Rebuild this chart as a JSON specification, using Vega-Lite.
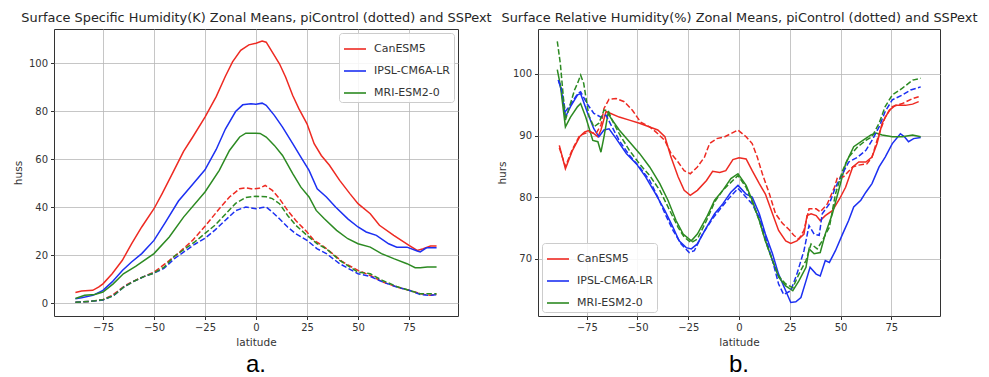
{
"$schema": "https://vega.github.io/schema/vega-lite/v6.json",
"background": "white",
"padding": {"left": 12, "top": 10, "right": 5, "bottom": 0},
"bounds": "flush",
"spacing": 80,
"config": {
  "font": "DejaVu Sans",
  "view": {"stroke": "#333333", "strokeWidth": 1},
  "axis": {"labelFont": "DejaVu Sans", "labelFontSize": 10, "labelColor": "#333333", "titleFont": "DejaVu Sans", "titleFontSize": 10.5, "titleFontWeight": "normal", "titleColor": "#333333", "gridColor": "#b8b8b8", "gridWidth": 0.8, "domain": false, "tickColor": "#333333", "tickSize": 3.5, "labelPadding": 3, "titlePadding": 5},
  "title": {"font": "DejaVu Sans", "fontSize": 12, "fontWeight": "normal", "color": "#262626"},
  "legend": {"title": null, "fillColor": "rgba(255,255,255,0.85)", "strokeColor": "#cccccc", "cornerRadius": 3, "padding": 4, "offset": 4, "symbolType": "stroke", "symbolSize": 484, "symbolStrokeWidth": 1.6, "labelFont": "DejaVu Sans", "labelFontSize": 11, "labelColor": "#333333", "labelOffset": 7, "rowPadding": 5}
},
"datasets": {
"huss": [
{"model":"CanESM5","run":"SSPext","lat":-88.5,"v":4.4},{"model":"CanESM5","run":"SSPext","lat":-85.5,"v":5},{"model":"CanESM5","run":"SSPext","lat":-80,"v":5.3},{"model":"CanESM5","run":"SSPext","lat":-77,"v":6.7},{"model":"CanESM5","run":"SSPext","lat":-75,"v":8},{"model":"CanESM5","run":"SSPext","lat":-70.5,"v":12.2},{"model":"CanESM5","run":"SSPext","lat":-65.5,"v":17.8},{"model":"CanESM5","run":"SSPext","lat":-61,"v":24.7},{"model":"CanESM5","run":"SSPext","lat":-56,"v":31.7},{"model":"CanESM5","run":"SSPext","lat":-50,"v":39.3},{"model":"CanESM5","run":"SSPext","lat":-46,"v":45.6},{"model":"CanESM5","run":"SSPext","lat":-41,"v":53.9},{"model":"CanESM5","run":"SSPext","lat":-35.5,"v":63.2},{"model":"CanESM5","run":"SSPext","lat":-31,"v":69.2},{"model":"CanESM5","run":"SSPext","lat":-25,"v":77.5},{"model":"CanESM5","run":"SSPext","lat":-19.5,"v":86},{"model":"CanESM5","run":"SSPext","lat":-15,"v":94.5},{"model":"CanESM5","run":"SSPext","lat":-11.5,"v":100.5},{"model":"CanESM5","run":"SSPext","lat":-7.5,"v":105.3},{"model":"CanESM5","run":"SSPext","lat":-3.5,"v":107.6},{"model":"CanESM5","run":"SSPext","lat":0,"v":108.3},{"model":"CanESM5","run":"SSPext","lat":3,"v":109.2},{"model":"CanESM5","run":"SSPext","lat":5,"v":108.7},{"model":"CanESM5","run":"SSPext","lat":8,"v":104.6},{"model":"CanESM5","run":"SSPext","lat":11.5,"v":99.7},{"model":"CanESM5","run":"SSPext","lat":14.5,"v":94.2},{"model":"CanESM5","run":"SSPext","lat":18,"v":86.5},{"model":"CanESM5","run":"SSPext","lat":21,"v":81},{"model":"CanESM5","run":"SSPext","lat":25,"v":74.7},{"model":"CanESM5","run":"SSPext","lat":28.5,"v":66.4},{"model":"CanESM5","run":"SSPext","lat":32,"v":61.5},{"model":"CanESM5","run":"SSPext","lat":36,"v":57.4},{"model":"CanESM5","run":"SSPext","lat":41,"v":51.1},{"model":"CanESM5","run":"SSPext","lat":46,"v":45.6},{"model":"CanESM5","run":"SSPext","lat":50,"v":41.4},{"model":"CanESM5","run":"SSPext","lat":56,"v":37.2},{"model":"CanESM5","run":"SSPext","lat":60.5,"v":32.4},{"model":"CanESM5","run":"SSPext","lat":67.5,"v":28.2},{"model":"CanESM5","run":"SSPext","lat":75,"v":24},{"model":"CanESM5","run":"SSPext","lat":79,"v":21.9},{"model":"CanESM5","run":"SSPext","lat":82,"v":22.6},{"model":"CanESM5","run":"SSPext","lat":85.5,"v":23.8},{"model":"CanESM5","run":"SSPext","lat":88.5,"v":23.8},
{"model":"IPSL-CM6A-LR","run":"SSPext","lat":-88.5,"v":1.8},{"model":"IPSL-CM6A-LR","run":"SSPext","lat":-85.5,"v":2.2},{"model":"IPSL-CM6A-LR","run":"SSPext","lat":-80,"v":3.2},{"model":"IPSL-CM6A-LR","run":"SSPext","lat":-75,"v":5.3},{"model":"IPSL-CM6A-LR","run":"SSPext","lat":-70.5,"v":8.8},{"model":"IPSL-CM6A-LR","run":"SSPext","lat":-65.5,"v":13.6},{"model":"IPSL-CM6A-LR","run":"SSPext","lat":-61,"v":17.1},{"model":"IPSL-CM6A-LR","run":"SSPext","lat":-56,"v":20.6},{"model":"IPSL-CM6A-LR","run":"SSPext","lat":-50,"v":26.1},{"model":"IPSL-CM6A-LR","run":"SSPext","lat":-44.5,"v":33.5},{"model":"IPSL-CM6A-LR","run":"SSPext","lat":-38,"v":42.5},{"model":"IPSL-CM6A-LR","run":"SSPext","lat":-31,"v":49.5},{"model":"IPSL-CM6A-LR","run":"SSPext","lat":-25,"v":55.5},{"model":"IPSL-CM6A-LR","run":"SSPext","lat":-19.5,"v":64},{"model":"IPSL-CM6A-LR","run":"SSPext","lat":-15,"v":72.5},{"model":"IPSL-CM6A-LR","run":"SSPext","lat":-10,"v":79.8},{"model":"IPSL-CM6A-LR","run":"SSPext","lat":-6.5,"v":82.6},{"model":"IPSL-CM6A-LR","run":"SSPext","lat":-2.5,"v":83},{"model":"IPSL-CM6A-LR","run":"SSPext","lat":0,"v":82.8},{"model":"IPSL-CM6A-LR","run":"SSPext","lat":3,"v":83.3},{"model":"IPSL-CM6A-LR","run":"SSPext","lat":5,"v":82.4},{"model":"IPSL-CM6A-LR","run":"SSPext","lat":9,"v":78.2},{"model":"IPSL-CM6A-LR","run":"SSPext","lat":13,"v":73.3},{"model":"IPSL-CM6A-LR","run":"SSPext","lat":18,"v":66.4},{"model":"IPSL-CM6A-LR","run":"SSPext","lat":22,"v":60.8},{"model":"IPSL-CM6A-LR","run":"SSPext","lat":26,"v":55.3},{"model":"IPSL-CM6A-LR","run":"SSPext","lat":30,"v":47.6},{"model":"IPSL-CM6A-LR","run":"SSPext","lat":34.5,"v":44.2},{"model":"IPSL-CM6A-LR","run":"SSPext","lat":39,"v":40},{"model":"IPSL-CM6A-LR","run":"SSPext","lat":45,"v":35.1},{"model":"IPSL-CM6A-LR","run":"SSPext","lat":50,"v":31.7},{"model":"IPSL-CM6A-LR","run":"SSPext","lat":54,"v":29.6},{"model":"IPSL-CM6A-LR","run":"SSPext","lat":59,"v":28.2},{"model":"IPSL-CM6A-LR","run":"SSPext","lat":65,"v":24.7},{"model":"IPSL-CM6A-LR","run":"SSPext","lat":69,"v":23.3},{"model":"IPSL-CM6A-LR","run":"SSPext","lat":74,"v":23.3},{"model":"IPSL-CM6A-LR","run":"SSPext","lat":79,"v":21.7},{"model":"IPSL-CM6A-LR","run":"SSPext","lat":80.5,"v":21.3},{"model":"IPSL-CM6A-LR","run":"SSPext","lat":83.5,"v":23},{"model":"IPSL-CM6A-LR","run":"SSPext","lat":88.5,"v":23},
{"model":"MRI-ESM2-0","run":"SSPext","lat":-88.5,"v":1.9},{"model":"MRI-ESM2-0","run":"SSPext","lat":-84,"v":3.2},{"model":"MRI-ESM2-0","run":"SSPext","lat":-79,"v":3.6},{"model":"MRI-ESM2-0","run":"SSPext","lat":-75,"v":4.6},{"model":"MRI-ESM2-0","run":"SSPext","lat":-70,"v":8},{"model":"MRI-ESM2-0","run":"SSPext","lat":-65,"v":12.2},{"model":"MRI-ESM2-0","run":"SSPext","lat":-59,"v":15.3},{"model":"MRI-ESM2-0","run":"SSPext","lat":-50,"v":20.6},{"model":"MRI-ESM2-0","run":"SSPext","lat":-42.5,"v":27.5},{"model":"MRI-ESM2-0","run":"SSPext","lat":-35.5,"v":35.8},{"model":"MRI-ESM2-0","run":"SSPext","lat":-25,"v":46.3},{"model":"MRI-ESM2-0","run":"SSPext","lat":-18,"v":55.3},{"model":"MRI-ESM2-0","run":"SSPext","lat":-13,"v":63.6},{"model":"MRI-ESM2-0","run":"SSPext","lat":-8,"v":69.2},{"model":"MRI-ESM2-0","run":"SSPext","lat":-5,"v":70.8},{"model":"MRI-ESM2-0","run":"SSPext","lat":0,"v":70.8},{"model":"MRI-ESM2-0","run":"SSPext","lat":2,"v":70.7},{"model":"MRI-ESM2-0","run":"SSPext","lat":5,"v":69.2},{"model":"MRI-ESM2-0","run":"SSPext","lat":9,"v":65.7},{"model":"MRI-ESM2-0","run":"SSPext","lat":13,"v":61.5},{"model":"MRI-ESM2-0","run":"SSPext","lat":18,"v":53.9},{"model":"MRI-ESM2-0","run":"SSPext","lat":22,"v":48.3},{"model":"MRI-ESM2-0","run":"SSPext","lat":26,"v":44.2},{"model":"MRI-ESM2-0","run":"SSPext","lat":29.5,"v":38.6},{"model":"MRI-ESM2-0","run":"SSPext","lat":33.5,"v":35.1},{"model":"MRI-ESM2-0","run":"SSPext","lat":39.5,"v":30.3},{"model":"MRI-ESM2-0","run":"SSPext","lat":45,"v":26.8},{"model":"MRI-ESM2-0","run":"SSPext","lat":50,"v":24.7},{"model":"MRI-ESM2-0","run":"SSPext","lat":56,"v":23.3},{"model":"MRI-ESM2-0","run":"SSPext","lat":61.5,"v":20.6},{"model":"MRI-ESM2-0","run":"SSPext","lat":67.5,"v":18.5},{"model":"MRI-ESM2-0","run":"SSPext","lat":74,"v":16.4},{"model":"MRI-ESM2-0","run":"SSPext","lat":78,"v":14.7},{"model":"MRI-ESM2-0","run":"SSPext","lat":80.5,"v":14.7},{"model":"MRI-ESM2-0","run":"SSPext","lat":84,"v":15},{"model":"MRI-ESM2-0","run":"SSPext","lat":88.5,"v":15},
{"model":"CanESM5","run":"piControl","lat":-88.5,"v":0.3},{"model":"CanESM5","run":"piControl","lat":-80,"v":0.8},{"model":"CanESM5","run":"piControl","lat":-75,"v":1.4},{"model":"CanESM5","run":"piControl","lat":-70.5,"v":3.2},{"model":"CanESM5","run":"piControl","lat":-64,"v":7.4},{"model":"CanESM5","run":"piControl","lat":-57.5,"v":10.1},{"model":"CanESM5","run":"piControl","lat":-50,"v":12.9},{"model":"CanESM5","run":"piControl","lat":-44.5,"v":16.4},{"model":"CanESM5","run":"piControl","lat":-38,"v":20.8},{"model":"CanESM5","run":"piControl","lat":-31,"v":26.2},{"model":"CanESM5","run":"piControl","lat":-25,"v":32},{"model":"CanESM5","run":"piControl","lat":-18,"v":39.3},{"model":"CanESM5","run":"piControl","lat":-13,"v":44.2},{"model":"CanESM5","run":"piControl","lat":-8,"v":47.6},{"model":"CanESM5","run":"piControl","lat":-5,"v":48},{"model":"CanESM5","run":"piControl","lat":-1.5,"v":47.5},{"model":"CanESM5","run":"piControl","lat":1.5,"v":47.8},{"model":"CanESM5","run":"piControl","lat":4.5,"v":49},{"model":"CanESM5","run":"piControl","lat":8,"v":47},{"model":"CanESM5","run":"piControl","lat":11.5,"v":43.5},{"model":"CanESM5","run":"piControl","lat":15.5,"v":38.6},{"model":"CanESM5","run":"piControl","lat":19.5,"v":34.4},{"model":"CanESM5","run":"piControl","lat":25,"v":29.6},{"model":"CanESM5","run":"piControl","lat":28.5,"v":26.1},{"model":"CanESM5","run":"piControl","lat":32.5,"v":24},{"model":"CanESM5","run":"piControl","lat":37.5,"v":20.6},{"model":"CanESM5","run":"piControl","lat":42.5,"v":17.1},{"model":"CanESM5","run":"piControl","lat":50,"v":13.6},{"model":"CanESM5","run":"piControl","lat":56,"v":11.5},{"model":"CanESM5","run":"piControl","lat":62,"v":8.8},{"model":"CanESM5","run":"piControl","lat":69,"v":6.7},{"model":"CanESM5","run":"piControl","lat":75,"v":5.3},{"model":"CanESM5","run":"piControl","lat":80.5,"v":3.9},{"model":"CanESM5","run":"piControl","lat":85.5,"v":3.2},{"model":"CanESM5","run":"piControl","lat":88.5,"v":3.6},
{"model":"IPSL-CM6A-LR","run":"piControl","lat":-88.5,"v":0.3},{"model":"IPSL-CM6A-LR","run":"piControl","lat":-80,"v":0.8},{"model":"IPSL-CM6A-LR","run":"piControl","lat":-75,"v":1.3},{"model":"IPSL-CM6A-LR","run":"piControl","lat":-70,"v":3},{"model":"IPSL-CM6A-LR","run":"piControl","lat":-65,"v":6.5},{"model":"IPSL-CM6A-LR","run":"piControl","lat":-60,"v":9},{"model":"IPSL-CM6A-LR","run":"piControl","lat":-55,"v":11},{"model":"IPSL-CM6A-LR","run":"piControl","lat":-50,"v":12.5},{"model":"IPSL-CM6A-LR","run":"piControl","lat":-45,"v":14.5},{"model":"IPSL-CM6A-LR","run":"piControl","lat":-40,"v":18.5},{"model":"IPSL-CM6A-LR","run":"piControl","lat":-35,"v":21.5},{"model":"IPSL-CM6A-LR","run":"piControl","lat":-30,"v":24.5},{"model":"IPSL-CM6A-LR","run":"piControl","lat":-25,"v":27},{"model":"IPSL-CM6A-LR","run":"piControl","lat":-20,"v":30.5},{"model":"IPSL-CM6A-LR","run":"piControl","lat":-15,"v":34.5},{"model":"IPSL-CM6A-LR","run":"piControl","lat":-10,"v":38.5},{"model":"IPSL-CM6A-LR","run":"piControl","lat":-5,"v":40},{"model":"IPSL-CM6A-LR","run":"piControl","lat":0,"v":39.3},{"model":"IPSL-CM6A-LR","run":"piControl","lat":3,"v":39.8},{"model":"IPSL-CM6A-LR","run":"piControl","lat":5,"v":40},{"model":"IPSL-CM6A-LR","run":"piControl","lat":8,"v":37.9},{"model":"IPSL-CM6A-LR","run":"piControl","lat":11.5,"v":35.1},{"model":"IPSL-CM6A-LR","run":"piControl","lat":15.5,"v":31.7},{"model":"IPSL-CM6A-LR","run":"piControl","lat":19.5,"v":28.9},{"model":"IPSL-CM6A-LR","run":"piControl","lat":25,"v":26.1},{"model":"IPSL-CM6A-LR","run":"piControl","lat":30,"v":22.6},{"model":"IPSL-CM6A-LR","run":"piControl","lat":34.5,"v":20.6},{"model":"IPSL-CM6A-LR","run":"piControl","lat":41,"v":16.4},{"model":"IPSL-CM6A-LR","run":"piControl","lat":50,"v":12.2},{"model":"IPSL-CM6A-LR","run":"piControl","lat":56,"v":11.1},{"model":"IPSL-CM6A-LR","run":"piControl","lat":62,"v":8.8},{"model":"IPSL-CM6A-LR","run":"piControl","lat":69,"v":6.7},{"model":"IPSL-CM6A-LR","run":"piControl","lat":75,"v":5.3},{"model":"IPSL-CM6A-LR","run":"piControl","lat":80.5,"v":3.6},{"model":"IPSL-CM6A-LR","run":"piControl","lat":85.5,"v":3.2},{"model":"IPSL-CM6A-LR","run":"piControl","lat":88.5,"v":3.5},
{"model":"MRI-ESM2-0","run":"piControl","lat":-88.5,"v":0.3},{"model":"MRI-ESM2-0","run":"piControl","lat":-80,"v":0.8},{"model":"MRI-ESM2-0","run":"piControl","lat":-75,"v":1.4},{"model":"MRI-ESM2-0","run":"piControl","lat":-70,"v":3},{"model":"MRI-ESM2-0","run":"piControl","lat":-65,"v":6.5},{"model":"MRI-ESM2-0","run":"piControl","lat":-60,"v":9},{"model":"MRI-ESM2-0","run":"piControl","lat":-55,"v":11},{"model":"MRI-ESM2-0","run":"piControl","lat":-50,"v":12.5},{"model":"MRI-ESM2-0","run":"piControl","lat":-45,"v":15},{"model":"MRI-ESM2-0","run":"piControl","lat":-40,"v":19.5},{"model":"MRI-ESM2-0","run":"piControl","lat":-35,"v":22.5},{"model":"MRI-ESM2-0","run":"piControl","lat":-30,"v":25.5},{"model":"MRI-ESM2-0","run":"piControl","lat":-25,"v":29},{"model":"MRI-ESM2-0","run":"piControl","lat":-20,"v":32.5},{"model":"MRI-ESM2-0","run":"piControl","lat":-15,"v":37},{"model":"MRI-ESM2-0","run":"piControl","lat":-10,"v":41.5},{"model":"MRI-ESM2-0","run":"piControl","lat":-5,"v":44},{"model":"MRI-ESM2-0","run":"piControl","lat":0,"v":44.5},{"model":"MRI-ESM2-0","run":"piControl","lat":5,"v":44.3},{"model":"MRI-ESM2-0","run":"piControl","lat":8,"v":43.5},{"model":"MRI-ESM2-0","run":"piControl","lat":11.5,"v":41.4},{"model":"MRI-ESM2-0","run":"piControl","lat":15.5,"v":36.5},{"model":"MRI-ESM2-0","run":"piControl","lat":19.5,"v":32.4},{"model":"MRI-ESM2-0","run":"piControl","lat":25,"v":28.2},{"model":"MRI-ESM2-0","run":"piControl","lat":30,"v":24.7},{"model":"MRI-ESM2-0","run":"piControl","lat":34.5,"v":22.6},{"model":"MRI-ESM2-0","run":"piControl","lat":41,"v":17.8},{"model":"MRI-ESM2-0","run":"piControl","lat":50,"v":12.9},{"model":"MRI-ESM2-0","run":"piControl","lat":56,"v":12.2},{"model":"MRI-ESM2-0","run":"piControl","lat":62,"v":9.4},{"model":"MRI-ESM2-0","run":"piControl","lat":69,"v":6.9},{"model":"MRI-ESM2-0","run":"piControl","lat":75,"v":5.3},{"model":"MRI-ESM2-0","run":"piControl","lat":80.5,"v":3.9},{"model":"MRI-ESM2-0","run":"piControl","lat":85.5,"v":3.9},{"model":"MRI-ESM2-0","run":"piControl","lat":88.5,"v":3.9}
],
"hurs": [
{"model":"CanESM5","run":"SSPext","lat":-88.5,"v":88.4},{"model":"CanESM5","run":"SSPext","lat":-85.5,"v":84.6},{"model":"CanESM5","run":"SSPext","lat":-82,"v":87.6},{"model":"CanESM5","run":"SSPext","lat":-78.5,"v":89.8},{"model":"CanESM5","run":"SSPext","lat":-76,"v":90.6},{"model":"CanESM5","run":"SSPext","lat":-74,"v":90.8},{"model":"CanESM5","run":"SSPext","lat":-71.5,"v":90.3},{"model":"CanESM5","run":"SSPext","lat":-69.5,"v":89.8},{"model":"CanESM5","run":"SSPext","lat":-68,"v":90.9},{"model":"CanESM5","run":"SSPext","lat":-65.5,"v":93.9},{"model":"CanESM5","run":"SSPext","lat":-64,"v":93.7},{"model":"CanESM5","run":"SSPext","lat":-59,"v":93},{"model":"CanESM5","run":"SSPext","lat":-54,"v":92.5},{"model":"CanESM5","run":"SSPext","lat":-49,"v":92},{"model":"CanESM5","run":"SSPext","lat":-44,"v":91.4},{"model":"CanESM5","run":"SSPext","lat":-40,"v":90.9},{"model":"CanESM5","run":"SSPext","lat":-36.5,"v":89.8},{"model":"CanESM5","run":"SSPext","lat":-33.5,"v":86.5},{"model":"CanESM5","run":"SSPext","lat":-30,"v":83.3},{"model":"CanESM5","run":"SSPext","lat":-27,"v":81.1},{"model":"CanESM5","run":"SSPext","lat":-24,"v":80.3},{"model":"CanESM5","run":"SSPext","lat":-20.5,"v":81.1},{"model":"CanESM5","run":"SSPext","lat":-16,"v":82.7},{"model":"CanESM5","run":"SSPext","lat":-13,"v":84.2},{"model":"CanESM5","run":"SSPext","lat":-9.5,"v":84},{"model":"CanESM5","run":"SSPext","lat":-6.5,"v":84.3},{"model":"CanESM5","run":"SSPext","lat":-3,"v":86.1},{"model":"CanESM5","run":"SSPext","lat":0,"v":86.4},{"model":"CanESM5","run":"SSPext","lat":3.5,"v":86.2},{"model":"CanESM5","run":"SSPext","lat":6.5,"v":84.3},{"model":"CanESM5","run":"SSPext","lat":10,"v":82.2},{"model":"CanESM5","run":"SSPext","lat":13,"v":80.5},{"model":"CanESM5","run":"SSPext","lat":16.5,"v":77.3},{"model":"CanESM5","run":"SSPext","lat":19.5,"v":74.6},{"model":"CanESM5","run":"SSPext","lat":23,"v":72.9},{"model":"CanESM5","run":"SSPext","lat":25.5,"v":72.5},{"model":"CanESM5","run":"SSPext","lat":28.5,"v":72.9},{"model":"CanESM5","run":"SSPext","lat":32,"v":74},{"model":"CanESM5","run":"SSPext","lat":33.5,"v":77},{"model":"CanESM5","run":"SSPext","lat":35.5,"v":77.3},{"model":"CanESM5","run":"SSPext","lat":38,"v":77},{"model":"CanESM5","run":"SSPext","lat":40,"v":76.2},{"model":"CanESM5","run":"SSPext","lat":42.5,"v":77},{"model":"CanESM5","run":"SSPext","lat":46,"v":77.8},{"model":"CanESM5","run":"SSPext","lat":49.5,"v":79.7},{"model":"CanESM5","run":"SSPext","lat":52.5,"v":81.6},{"model":"CanESM5","run":"SSPext","lat":56,"v":84.9},{"model":"CanESM5","run":"SSPext","lat":59,"v":85.7},{"model":"CanESM5","run":"SSPext","lat":62.5,"v":85.7},{"model":"CanESM5","run":"SSPext","lat":65.5,"v":86.5},{"model":"CanESM5","run":"SSPext","lat":68,"v":88.7},{"model":"CanESM5","run":"SSPext","lat":70.5,"v":92},{"model":"CanESM5","run":"SSPext","lat":74,"v":94.1},{"model":"CanESM5","run":"SSPext","lat":77,"v":94.9},{"model":"CanESM5","run":"SSPext","lat":82,"v":94.9},{"model":"CanESM5","run":"SSPext","lat":85.5,"v":95.1},{"model":"CanESM5","run":"SSPext","lat":88.5,"v":95.5},
{"model":"CanESM5","run":"piControl","lat":-88.5,"v":88},{"model":"CanESM5","run":"piControl","lat":-85.5,"v":85},{"model":"CanESM5","run":"piControl","lat":-82,"v":87.8},{"model":"CanESM5","run":"piControl","lat":-78.5,"v":90},{"model":"CanESM5","run":"piControl","lat":-74,"v":90.6},{"model":"CanESM5","run":"piControl","lat":-70.5,"v":90.3},{"model":"CanESM5","run":"piControl","lat":-68,"v":91.7},{"model":"CanESM5","run":"piControl","lat":-66.5,"v":94.4},{"model":"CanESM5","run":"piControl","lat":-64,"v":95.9},{"model":"CanESM5","run":"piControl","lat":-60.5,"v":96},{"model":"CanESM5","run":"piControl","lat":-56.5,"v":95.5},{"model":"CanESM5","run":"piControl","lat":-52.5,"v":94.1},{"model":"CanESM5","run":"piControl","lat":-48.5,"v":92.2},{"model":"CanESM5","run":"piControl","lat":-44,"v":91.4},{"model":"CanESM5","run":"piControl","lat":-41,"v":90.6},{"model":"CanESM5","run":"piControl","lat":-36.5,"v":89.2},{"model":"CanESM5","run":"piControl","lat":-33.5,"v":87.1},{"model":"CanESM5","run":"piControl","lat":-30,"v":85.7},{"model":"CanESM5","run":"piControl","lat":-27,"v":84.3},{"model":"CanESM5","run":"piControl","lat":-24,"v":83.8},{"model":"CanESM5","run":"piControl","lat":-20.5,"v":84.9},{"model":"CanESM5","run":"piControl","lat":-17,"v":86.5},{"model":"CanESM5","run":"piControl","lat":-14.5,"v":88.7},{"model":"CanESM5","run":"piControl","lat":-11,"v":89.5},{"model":"CanESM5","run":"piControl","lat":-7,"v":89.8},{"model":"CanESM5","run":"piControl","lat":-4,"v":90.3},{"model":"CanESM5","run":"piControl","lat":-0.5,"v":90.9},{"model":"CanESM5","run":"piControl","lat":3.5,"v":89.8},{"model":"CanESM5","run":"piControl","lat":6.5,"v":88.7},{"model":"CanESM5","run":"piControl","lat":9,"v":86.5},{"model":"CanESM5","run":"piControl","lat":11.5,"v":83.8},{"model":"CanESM5","run":"piControl","lat":15,"v":80.5},{"model":"CanESM5","run":"piControl","lat":18,"v":77.3},{"model":"CanESM5","run":"piControl","lat":21.5,"v":75.7},{"model":"CanESM5","run":"piControl","lat":24.5,"v":74.8},{"model":"CanESM5","run":"piControl","lat":27,"v":73.8},{"model":"CanESM5","run":"piControl","lat":29.5,"v":73.2},{"model":"CanESM5","run":"piControl","lat":32,"v":74.6},{"model":"CanESM5","run":"piControl","lat":34.5,"v":78.1},{"model":"CanESM5","run":"piControl","lat":38,"v":78.1},{"model":"CanESM5","run":"piControl","lat":40,"v":77.6},{"model":"CanESM5","run":"piControl","lat":43.5,"v":78.9},{"model":"CanESM5","run":"piControl","lat":47,"v":81.6},{"model":"CanESM5","run":"piControl","lat":48.5,"v":83.2},{"model":"CanESM5","run":"piControl","lat":51.5,"v":83.3},{"model":"CanESM5","run":"piControl","lat":56,"v":84.9},{"model":"CanESM5","run":"piControl","lat":59,"v":85.2},{"model":"CanESM5","run":"piControl","lat":63,"v":85.4},{"model":"CanESM5","run":"piControl","lat":65.5,"v":86.5},{"model":"CanESM5","run":"piControl","lat":69,"v":90.3},{"model":"CanESM5","run":"piControl","lat":72,"v":93},{"model":"CanESM5","run":"piControl","lat":75.5,"v":94.7},{"model":"CanESM5","run":"piControl","lat":80.5,"v":95.2},{"model":"CanESM5","run":"piControl","lat":85.5,"v":96},{"model":"CanESM5","run":"piControl","lat":88.5,"v":96.3},
{"model":"IPSL-CM6A-LR","run":"SSPext","lat":-89,"v":99},{"model":"IPSL-CM6A-LR","run":"SSPext","lat":-87.5,"v":97.4},{"model":"IPSL-CM6A-LR","run":"SSPext","lat":-85.5,"v":93},{"model":"IPSL-CM6A-LR","run":"SSPext","lat":-83,"v":94.7},{"model":"IPSL-CM6A-LR","run":"SSPext","lat":-79.5,"v":96.6},{"model":"IPSL-CM6A-LR","run":"SSPext","lat":-78,"v":96.8},{"model":"IPSL-CM6A-LR","run":"SSPext","lat":-74.5,"v":93.6},{"model":"IPSL-CM6A-LR","run":"SSPext","lat":-71.5,"v":91.1},{"model":"IPSL-CM6A-LR","run":"SSPext","lat":-69,"v":89.8},{"model":"IPSL-CM6A-LR","run":"SSPext","lat":-66.5,"v":90.9},{"model":"IPSL-CM6A-LR","run":"SSPext","lat":-64,"v":91.1},{"model":"IPSL-CM6A-LR","run":"SSPext","lat":-60.5,"v":89.5},{"model":"IPSL-CM6A-LR","run":"SSPext","lat":-55.5,"v":87.1},{"model":"IPSL-CM6A-LR","run":"SSPext","lat":-50.5,"v":85.4},{"model":"IPSL-CM6A-LR","run":"SSPext","lat":-46,"v":83.3},{"model":"IPSL-CM6A-LR","run":"SSPext","lat":-41,"v":80.5},{"model":"IPSL-CM6A-LR","run":"SSPext","lat":-36.5,"v":77.8},{"model":"IPSL-CM6A-LR","run":"SSPext","lat":-32.5,"v":75.1},{"model":"IPSL-CM6A-LR","run":"SSPext","lat":-29.5,"v":72.9},{"model":"IPSL-CM6A-LR","run":"SSPext","lat":-26,"v":71.8},{"model":"IPSL-CM6A-LR","run":"SSPext","lat":-23.5,"v":71.6},{"model":"IPSL-CM6A-LR","run":"SSPext","lat":-20.5,"v":72.4},{"model":"IPSL-CM6A-LR","run":"SSPext","lat":-16,"v":75.1},{"model":"IPSL-CM6A-LR","run":"SSPext","lat":-12,"v":77.3},{"model":"IPSL-CM6A-LR","run":"SSPext","lat":-8,"v":78.9},{"model":"IPSL-CM6A-LR","run":"SSPext","lat":-4,"v":80.8},{"model":"IPSL-CM6A-LR","run":"SSPext","lat":-0.5,"v":81.9},{"model":"IPSL-CM6A-LR","run":"SSPext","lat":3.5,"v":80.5},{"model":"IPSL-CM6A-LR","run":"SSPext","lat":6.5,"v":80},{"model":"IPSL-CM6A-LR","run":"SSPext","lat":10,"v":77.3},{"model":"IPSL-CM6A-LR","run":"SSPext","lat":13,"v":74},{"model":"IPSL-CM6A-LR","run":"SSPext","lat":16.5,"v":70.8},{"model":"IPSL-CM6A-LR","run":"SSPext","lat":19.5,"v":67.5},{"model":"IPSL-CM6A-LR","run":"SSPext","lat":23,"v":64.8},{"model":"IPSL-CM6A-LR","run":"SSPext","lat":25.5,"v":62.9},{"model":"IPSL-CM6A-LR","run":"SSPext","lat":28,"v":63},{"model":"IPSL-CM6A-LR","run":"SSPext","lat":30.5,"v":63.7},{"model":"IPSL-CM6A-LR","run":"SSPext","lat":33,"v":66.4},{"model":"IPSL-CM6A-LR","run":"SSPext","lat":35,"v":68.6},{"model":"IPSL-CM6A-LR","run":"SSPext","lat":38,"v":67.5},{"model":"IPSL-CM6A-LR","run":"SSPext","lat":40,"v":67.2},{"model":"IPSL-CM6A-LR","run":"SSPext","lat":42.5,"v":69.7},{"model":"IPSL-CM6A-LR","run":"SSPext","lat":44.5,"v":69.4},{"model":"IPSL-CM6A-LR","run":"SSPext","lat":47.5,"v":71.3},{"model":"IPSL-CM6A-LR","run":"SSPext","lat":51,"v":74},{"model":"IPSL-CM6A-LR","run":"SSPext","lat":54,"v":76.2},{"model":"IPSL-CM6A-LR","run":"SSPext","lat":56.5,"v":78.4},{"model":"IPSL-CM6A-LR","run":"SSPext","lat":60,"v":79.5},{"model":"IPSL-CM6A-LR","run":"SSPext","lat":62.5,"v":80.8},{"model":"IPSL-CM6A-LR","run":"SSPext","lat":65.5,"v":82.2},{"model":"IPSL-CM6A-LR","run":"SSPext","lat":69,"v":84.9},{"model":"IPSL-CM6A-LR","run":"SSPext","lat":72,"v":86.5},{"model":"IPSL-CM6A-LR","run":"SSPext","lat":75.5,"v":88.7},{"model":"IPSL-CM6A-LR","run":"SSPext","lat":79.5,"v":90.3},{"model":"IPSL-CM6A-LR","run":"SSPext","lat":81.5,"v":89.8},{"model":"IPSL-CM6A-LR","run":"SSPext","lat":83.5,"v":89},{"model":"IPSL-CM6A-LR","run":"SSPext","lat":86,"v":89.5},{"model":"IPSL-CM6A-LR","run":"SSPext","lat":89.5,"v":89.7},
{"model":"IPSL-CM6A-LR","run":"piControl","lat":-89,"v":99},{"model":"IPSL-CM6A-LR","run":"piControl","lat":-87.5,"v":97.7},{"model":"IPSL-CM6A-LR","run":"piControl","lat":-85.5,"v":93.9},{"model":"IPSL-CM6A-LR","run":"piControl","lat":-83,"v":95},{"model":"IPSL-CM6A-LR","run":"piControl","lat":-79.5,"v":96.8},{"model":"IPSL-CM6A-LR","run":"piControl","lat":-78,"v":97.1},{"model":"IPSL-CM6A-LR","run":"piControl","lat":-74.5,"v":95},{"model":"IPSL-CM6A-LR","run":"piControl","lat":-71.5,"v":93.6},{"model":"IPSL-CM6A-LR","run":"piControl","lat":-68,"v":93},{"model":"IPSL-CM6A-LR","run":"piControl","lat":-65.5,"v":93.3},{"model":"IPSL-CM6A-LR","run":"piControl","lat":-63,"v":91.7},{"model":"IPSL-CM6A-LR","run":"piControl","lat":-59,"v":89.2},{"model":"IPSL-CM6A-LR","run":"piControl","lat":-54,"v":86.8},{"model":"IPSL-CM6A-LR","run":"piControl","lat":-49,"v":84.9},{"model":"IPSL-CM6A-LR","run":"piControl","lat":-44,"v":82.7},{"model":"IPSL-CM6A-LR","run":"piControl","lat":-40,"v":80},{"model":"IPSL-CM6A-LR","run":"piControl","lat":-36,"v":77},{"model":"IPSL-CM6A-LR","run":"piControl","lat":-32.5,"v":74.6},{"model":"IPSL-CM6A-LR","run":"piControl","lat":-28.5,"v":72.4},{"model":"IPSL-CM6A-LR","run":"piControl","lat":-24.5,"v":71},{"model":"IPSL-CM6A-LR","run":"piControl","lat":-22,"v":71.3},{"model":"IPSL-CM6A-LR","run":"piControl","lat":-18,"v":74},{"model":"IPSL-CM6A-LR","run":"piControl","lat":-13,"v":76.5},{"model":"IPSL-CM6A-LR","run":"piControl","lat":-8.5,"v":78.4},{"model":"IPSL-CM6A-LR","run":"piControl","lat":-4.5,"v":80},{"model":"IPSL-CM6A-LR","run":"piControl","lat":-0.5,"v":81.4},{"model":"IPSL-CM6A-LR","run":"piControl","lat":3.5,"v":80},{"model":"IPSL-CM6A-LR","run":"piControl","lat":6.5,"v":78.9},{"model":"IPSL-CM6A-LR","run":"piControl","lat":10,"v":76.7},{"model":"IPSL-CM6A-LR","run":"piControl","lat":13,"v":73.5},{"model":"IPSL-CM6A-LR","run":"piControl","lat":16.5,"v":69.7},{"model":"IPSL-CM6A-LR","run":"piControl","lat":19.5,"v":65.9},{"model":"IPSL-CM6A-LR","run":"piControl","lat":22,"v":64.2},{"model":"IPSL-CM6A-LR","run":"piControl","lat":25.5,"v":64.8},{"model":"IPSL-CM6A-LR","run":"piControl","lat":28.5,"v":67.5},{"model":"IPSL-CM6A-LR","run":"piControl","lat":32,"v":71.3},{"model":"IPSL-CM6A-LR","run":"piControl","lat":34.5,"v":75.4},{"model":"IPSL-CM6A-LR","run":"piControl","lat":37,"v":74},{"model":"IPSL-CM6A-LR","run":"piControl","lat":39.5,"v":73.8},{"model":"IPSL-CM6A-LR","run":"piControl","lat":41,"v":77.3},{"model":"IPSL-CM6A-LR","run":"piControl","lat":44.5,"v":78.9},{"model":"IPSL-CM6A-LR","run":"piControl","lat":47.5,"v":81.6},{"model":"IPSL-CM6A-LR","run":"piControl","lat":51,"v":83.8},{"model":"IPSL-CM6A-LR","run":"piControl","lat":54,"v":85.7},{"model":"IPSL-CM6A-LR","run":"piControl","lat":58.5,"v":86.5},{"model":"IPSL-CM6A-LR","run":"piControl","lat":62.5,"v":87.6},{"model":"IPSL-CM6A-LR","run":"piControl","lat":65.5,"v":89.2},{"model":"IPSL-CM6A-LR","run":"piControl","lat":69,"v":91.4},{"model":"IPSL-CM6A-LR","run":"piControl","lat":72,"v":93.9},{"model":"IPSL-CM6A-LR","run":"piControl","lat":75.5,"v":95.8},{"model":"IPSL-CM6A-LR","run":"piControl","lat":80.5,"v":96.6},{"model":"IPSL-CM6A-LR","run":"piControl","lat":84.5,"v":97.4},{"model":"IPSL-CM6A-LR","run":"piControl","lat":89.5,"v":97.9},
{"model":"MRI-ESM2-0","run":"SSPext","lat":-89.5,"v":100.7},{"model":"MRI-ESM2-0","run":"SSPext","lat":-88,"v":98.2},{"model":"MRI-ESM2-0","run":"SSPext","lat":-85.5,"v":91.4},{"model":"MRI-ESM2-0","run":"SSPext","lat":-83,"v":93},{"model":"MRI-ESM2-0","run":"SSPext","lat":-79.5,"v":94.7},{"model":"MRI-ESM2-0","run":"SSPext","lat":-78,"v":95.2},{"model":"MRI-ESM2-0","run":"SSPext","lat":-75.5,"v":93},{"model":"MRI-ESM2-0","run":"SSPext","lat":-72,"v":89.2},{"model":"MRI-ESM2-0","run":"SSPext","lat":-69.5,"v":89},{"model":"MRI-ESM2-0","run":"SSPext","lat":-68,"v":87.3},{"model":"MRI-ESM2-0","run":"SSPext","lat":-66.5,"v":89.8},{"model":"MRI-ESM2-0","run":"SSPext","lat":-64.5,"v":93.6},{"model":"MRI-ESM2-0","run":"SSPext","lat":-63,"v":92.8},{"model":"MRI-ESM2-0","run":"SSPext","lat":-59,"v":90.9},{"model":"MRI-ESM2-0","run":"SSPext","lat":-54,"v":89},{"model":"MRI-ESM2-0","run":"SSPext","lat":-49,"v":87.1},{"model":"MRI-ESM2-0","run":"SSPext","lat":-44,"v":84.9},{"model":"MRI-ESM2-0","run":"SSPext","lat":-39,"v":82.2},{"model":"MRI-ESM2-0","run":"SSPext","lat":-35,"v":79.5},{"model":"MRI-ESM2-0","run":"SSPext","lat":-31,"v":76.2},{"model":"MRI-ESM2-0","run":"SSPext","lat":-27.5,"v":74},{"model":"MRI-ESM2-0","run":"SSPext","lat":-23.5,"v":72.9},{"model":"MRI-ESM2-0","run":"SSPext","lat":-20.5,"v":74},{"model":"MRI-ESM2-0","run":"SSPext","lat":-16,"v":76.7},{"model":"MRI-ESM2-0","run":"SSPext","lat":-12,"v":79.5},{"model":"MRI-ESM2-0","run":"SSPext","lat":-8,"v":81.1},{"model":"MRI-ESM2-0","run":"SSPext","lat":-4,"v":83},{"model":"MRI-ESM2-0","run":"SSPext","lat":-0.5,"v":83.8},{"model":"MRI-ESM2-0","run":"SSPext","lat":3.5,"v":81.9},{"model":"MRI-ESM2-0","run":"SSPext","lat":6.5,"v":79.5},{"model":"MRI-ESM2-0","run":"SSPext","lat":10,"v":76.2},{"model":"MRI-ESM2-0","run":"SSPext","lat":13,"v":72.9},{"model":"MRI-ESM2-0","run":"SSPext","lat":16.5,"v":69.7},{"model":"MRI-ESM2-0","run":"SSPext","lat":19.5,"v":67},{"model":"MRI-ESM2-0","run":"SSPext","lat":23,"v":65.6},{"model":"MRI-ESM2-0","run":"SSPext","lat":26.5,"v":64.8},{"model":"MRI-ESM2-0","run":"SSPext","lat":29.5,"v":66.4},{"model":"MRI-ESM2-0","run":"SSPext","lat":33,"v":68.6},{"model":"MRI-ESM2-0","run":"SSPext","lat":34.5,"v":71.6},{"model":"MRI-ESM2-0","run":"SSPext","lat":37,"v":70.8},{"model":"MRI-ESM2-0","run":"SSPext","lat":40,"v":71},{"model":"MRI-ESM2-0","run":"SSPext","lat":42.5,"v":74},{"model":"MRI-ESM2-0","run":"SSPext","lat":46,"v":77.3},{"model":"MRI-ESM2-0","run":"SSPext","lat":49.5,"v":81.6},{"model":"MRI-ESM2-0","run":"SSPext","lat":52.5,"v":85.4},{"model":"MRI-ESM2-0","run":"SSPext","lat":56.5,"v":88.2},{"model":"MRI-ESM2-0","run":"SSPext","lat":61,"v":89.2},{"model":"MRI-ESM2-0","run":"SSPext","lat":65,"v":90.1},{"model":"MRI-ESM2-0","run":"SSPext","lat":67.5,"v":90.4},{"model":"MRI-ESM2-0","run":"SSPext","lat":70.5,"v":90.1},{"model":"MRI-ESM2-0","run":"SSPext","lat":75.5,"v":89.8},{"model":"MRI-ESM2-0","run":"SSPext","lat":80.5,"v":89.8},{"model":"MRI-ESM2-0","run":"SSPext","lat":85.5,"v":90.1},{"model":"MRI-ESM2-0","run":"SSPext","lat":89.5,"v":89.8},
{"model":"MRI-ESM2-0","run":"piControl","lat":-89.5,"v":105.3},{"model":"MRI-ESM2-0","run":"piControl","lat":-88,"v":101.7},{"model":"MRI-ESM2-0","run":"piControl","lat":-85.5,"v":92.5},{"model":"MRI-ESM2-0","run":"piControl","lat":-83,"v":95.2},{"model":"MRI-ESM2-0","run":"piControl","lat":-81,"v":97.4},{"model":"MRI-ESM2-0","run":"piControl","lat":-79.5,"v":98.5},{"model":"MRI-ESM2-0","run":"piControl","lat":-78,"v":99.8},{"model":"MRI-ESM2-0","run":"piControl","lat":-76.5,"v":98.5},{"model":"MRI-ESM2-0","run":"piControl","lat":-74,"v":93.3},{"model":"MRI-ESM2-0","run":"piControl","lat":-71.5,"v":91.4},{"model":"MRI-ESM2-0","run":"piControl","lat":-69,"v":92},{"model":"MRI-ESM2-0","run":"piControl","lat":-66.5,"v":94.1},{"model":"MRI-ESM2-0","run":"piControl","lat":-64.5,"v":94.1},{"model":"MRI-ESM2-0","run":"piControl","lat":-62.5,"v":92.5},{"model":"MRI-ESM2-0","run":"piControl","lat":-59,"v":90.3},{"model":"MRI-ESM2-0","run":"piControl","lat":-54,"v":87.6},{"model":"MRI-ESM2-0","run":"piControl","lat":-49,"v":85.4},{"model":"MRI-ESM2-0","run":"piControl","lat":-44,"v":83.5},{"model":"MRI-ESM2-0","run":"piControl","lat":-39,"v":81.1},{"model":"MRI-ESM2-0","run":"piControl","lat":-34.5,"v":78.1},{"model":"MRI-ESM2-0","run":"piControl","lat":-30,"v":75.1},{"model":"MRI-ESM2-0","run":"piControl","lat":-27,"v":73.5},{"model":"MRI-ESM2-0","run":"piControl","lat":-23.5,"v":72.6},{"model":"MRI-ESM2-0","run":"piControl","lat":-20.5,"v":73.2},{"model":"MRI-ESM2-0","run":"piControl","lat":-16,"v":76.2},{"model":"MRI-ESM2-0","run":"piControl","lat":-12,"v":79.2},{"model":"MRI-ESM2-0","run":"piControl","lat":-8,"v":81.1},{"model":"MRI-ESM2-0","run":"piControl","lat":-4,"v":82.4},{"model":"MRI-ESM2-0","run":"piControl","lat":-0.5,"v":83.5},{"model":"MRI-ESM2-0","run":"piControl","lat":3.5,"v":81.6},{"model":"MRI-ESM2-0","run":"piControl","lat":6.5,"v":79.2},{"model":"MRI-ESM2-0","run":"piControl","lat":10,"v":76.2},{"model":"MRI-ESM2-0","run":"piControl","lat":13,"v":72.9},{"model":"MRI-ESM2-0","run":"piControl","lat":16.5,"v":69.7},{"model":"MRI-ESM2-0","run":"piControl","lat":19.5,"v":67.2},{"model":"MRI-ESM2-0","run":"piControl","lat":23,"v":65.9},{"model":"MRI-ESM2-0","run":"piControl","lat":26.5,"v":65.3},{"model":"MRI-ESM2-0","run":"piControl","lat":29.5,"v":67.5},{"model":"MRI-ESM2-0","run":"piControl","lat":33,"v":69.7},{"model":"MRI-ESM2-0","run":"piControl","lat":35.5,"v":72.4},{"model":"MRI-ESM2-0","run":"piControl","lat":38.5,"v":71.6},{"model":"MRI-ESM2-0","run":"piControl","lat":41,"v":72.9},{"model":"MRI-ESM2-0","run":"piControl","lat":44.5,"v":75.1},{"model":"MRI-ESM2-0","run":"piControl","lat":47.5,"v":80.5},{"model":"MRI-ESM2-0","run":"piControl","lat":51,"v":84.3},{"model":"MRI-ESM2-0","run":"piControl","lat":54,"v":86.5},{"model":"MRI-ESM2-0","run":"piControl","lat":58.5,"v":88.2},{"model":"MRI-ESM2-0","run":"piControl","lat":62.5,"v":89.2},{"model":"MRI-ESM2-0","run":"piControl","lat":65.5,"v":89.8},{"model":"MRI-ESM2-0","run":"piControl","lat":69,"v":92},{"model":"MRI-ESM2-0","run":"piControl","lat":72,"v":94.7},{"model":"MRI-ESM2-0","run":"piControl","lat":75.5,"v":96.6},{"model":"MRI-ESM2-0","run":"piControl","lat":80.5,"v":97.7},{"model":"MRI-ESM2-0","run":"piControl","lat":85.5,"v":99},{"model":"MRI-ESM2-0","run":"piControl","lat":89.5,"v":99.3}
]
},
"hconcat": [
{
  "width": 404, "height": 287,
  "title": {"text": "a.", "orient": "bottom", "anchor": "middle", "frame": "group", "font": "Liberation Sans", "fontSize": 24, "color": "#000000", "offset": 5},
  "data": {"name": "huss"},
  "encoding": {
    "x": {"field": "lat", "type": "quantitative", "title": "latitude", "scale": {"domain": [-99, 99], "nice": false, "zero": false}, "axis": {"values": [-75, -50, -25, 0, 25, 50, 75]}},
    "y": {"field": "v", "type": "quantitative", "title": "huss", "scale": {"domain": [-5.4, 114.2], "nice": false, "zero": false}, "axis": {"values": [0, 20, 40, 60, 80, 100]}},
    "color": {"field": "model", "type": "nominal", "scale": {"domain": ["CanESM5", "IPSL-CM6A-LR", "MRI-ESM2-0"], "range": ["#ee2a22", "#1c30f2", "#2c8a22"]}, "legend": {"orient": "top-right"}}
  },
  "layer": [
    {"transform": [{"filter": "datum.run === 'SSPext'"}], "mark": {"type": "line", "strokeWidth": 1.5}},
    {"transform": [{"filter": "datum.run === 'piControl'"}], "mark": {"type": "line", "strokeWidth": 1.5, "strokeDash": [5.5, 2.4]},
     "encoding": {"x": {"field": "lat", "type": "quantitative", "axis": {"orient": "top", "title": "Surface Specific Humidity(K) Zonal Means, piControl (dotted) and SSPext", "titleFontSize": 12.9, "titleColor": "#262626", "titlePadding": 5, "labels": false, "ticks": false, "grid": false, "domain": false}}}}
  ],
  "resolve": {"axis": {"x": "independent"}}
},
{
  "width": 402, "height": 287,
  "title": {"text": "b.", "orient": "bottom", "anchor": "middle", "frame": "group", "font": "Liberation Sans", "fontSize": 24, "color": "#000000", "offset": 5},
  "data": {"name": "hurs"},
  "encoding": {
    "x": {"field": "lat", "type": "quantitative", "title": "latitude", "scale": {"domain": [-99, 99], "nice": false, "zero": false}, "axis": {"values": [-75, -50, -25, 0, 25, 50, 75]}},
    "y": {"field": "v", "type": "quantitative", "title": "hurs", "scale": {"domain": [60.7, 107.3], "nice": false, "zero": false}, "axis": {"values": [70, 80, 90, 100]}},
    "color": {"field": "model", "type": "nominal", "scale": {"domain": ["CanESM5", "IPSL-CM6A-LR", "MRI-ESM2-0"], "range": ["#ee2a22", "#1c30f2", "#2c8a22"]}, "legend": {"orient": "bottom-left"}}
  },
  "layer": [
    {"transform": [{"filter": "datum.run === 'SSPext'"}], "mark": {"type": "line", "strokeWidth": 1.5}},
    {"transform": [{"filter": "datum.run === 'piControl'"}], "mark": {"type": "line", "strokeWidth": 1.5, "strokeDash": [5.5, 2.4]},
     "encoding": {"x": {"field": "lat", "type": "quantitative", "axis": {"orient": "top", "title": "Surface Relative Humidity(%) Zonal Means, piControl (dotted) and SSPext", "titleFontSize": 12.9, "titleColor": "#262626", "titlePadding": 5, "labels": false, "ticks": false, "grid": false, "domain": false}}}}
  ],
  "resolve": {"axis": {"x": "independent"}}
}
],
"resolve": {"scale": {"color": "independent", "x": "independent", "y": "independent"}}
}
